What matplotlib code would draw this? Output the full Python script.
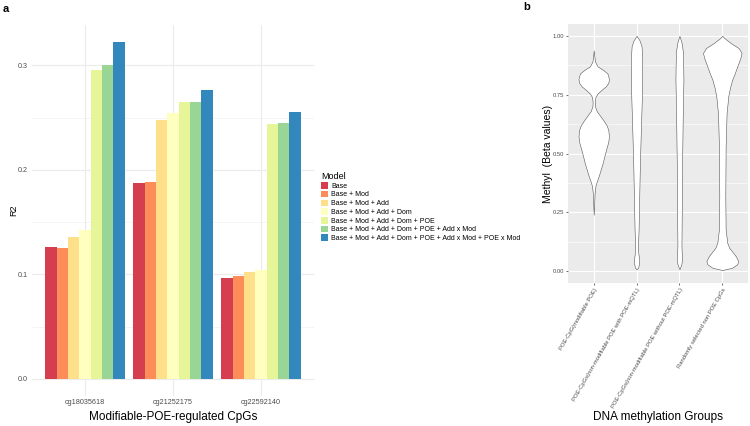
import numpy as np
import matplotlib
matplotlib.use("Agg")
import matplotlib.pyplot as plt
from matplotlib.patches import Patch

plt.rcParams['font.family'] = ['Liberation Sans', 'DejaVu Sans']

# ---- panel a data ----
cpgs = ["cg18035618", "cg21252175", "cg22592140"]
models = ["Base", "Base + Mod", "Base + Mod + Add", "Base + Mod + Add + Dom",
          "Base + Mod + Add + Dom + POE",
          "Base + Mod + Add + Dom + POE + Add x Mod",
          "Base + Mod + Add + Dom + POE + Add x Mod + POE x Mod"]
r2_cg18035618 = [0.126, 0.125, 0.136, 0.142, 0.295, 0.300, 0.322]
r2_cg21252175 = [0.187, 0.188, 0.248, 0.254, 0.265, 0.265, 0.276]
r2_cg22592140 = [0.097, 0.098, 0.102, 0.104, 0.244, 0.245, 0.255]
spectral = ["#D53E4F", "#FC8D59", "#FEE08B", "#FFFFBF", "#E6F598", "#99D594", "#3288BD"]

# ---- panel b data (violin outlines: y, half width) ----
groups = ["POE-CpG(modifiable POE)",
          "POE-CpGs(non-modifiable POE with POE-mQTL)",
          "POE-CpGs(non-modifiable POE without POE-mQTL)",
          "Randomly selected non POE CpGs"]
v1_y = [0.938, 0.92, 0.89, 0.87, 0.855, 0.84, 0.816, 0.80, 0.785, 0.77, 0.755, 0.74, 0.72,
        0.70, 0.68, 0.66, 0.64, 0.62, 0.60, 0.573, 0.55, 0.517, 0.49, 0.46, 0.43, 0.404,
        0.38, 0.362, 0.33, 0.29, 0.24]
v1_w = [0.0, 0.01, 0.03, 0.09, 0.22, 0.32, 0.357, 0.34, 0.28, 0.18, 0.09, 0.04, 0.025,
        0.03, 0.07, 0.15, 0.23, 0.30, 0.34, 0.355, 0.34, 0.29, 0.25, 0.21, 0.16, 0.116,
        0.07, 0.04, 0.02, 0.012, 0.0]
v2_y = [1.0, 0.98, 0.955, 0.91, 0.84, 0.743, 0.60, 0.46, 0.319, 0.178, 0.094, 0.07,
        0.051, 0.03, 0.015, 0.008]
v2_w = [0.0, 0.07, 0.116, 0.13, 0.13, 0.124, 0.10, 0.078, 0.062, 0.047, 0.03, 0.045,
        0.062, 0.055, 0.035, 0.0]
v3_y = [1.0, 0.97, 0.936, 0.88, 0.813, 0.67, 0.46, 0.25, 0.108, 0.07, 0.051, 0.03, 0.008]
v3_w = [0.0, 0.05, 0.078, 0.088, 0.093, 0.078, 0.062, 0.054, 0.047, 0.055, 0.06, 0.045, 0.0]
v4_y = [1.0, 0.99, 0.969, 0.948, 0.927, 0.905, 0.87, 0.84, 0.813, 0.78, 0.743, 0.67,
        0.53, 0.32, 0.178, 0.121, 0.10, 0.086, 0.065, 0.044, 0.03, 0.015, 0.005]
v4_w = [0.0, 0.05, 0.20, 0.38, 0.45, 0.42, 0.35, 0.29, 0.23, 0.18, 0.14, 0.10,
        0.078, 0.07, 0.078, 0.116, 0.16, 0.22, 0.31, 0.37, 0.35, 0.23, 0.0]

fig = plt.figure(figsize=(7.5, 4.26), dpi=100)
W, H = 750.0, 426.0

# ================= panel a =================
ax = fig.add_axes([32 / W, 1 - 396 / H, 282 / W, 371 / H])
vals = np.array([r2_cg18035618, r2_cg21252175, r2_cg22592140])
bw = 0.9 / len(models)
x = np.arange(len(cpgs))
for i, m in enumerate(models):
    ax.bar(x - 0.45 + bw * (i + 0.5), vals[:, i], width=bw, color=spectral[i],
           edgecolor="none", zorder=2)
ax.set_xlim(-0.6, 2.6)
ax.set_ylim(-0.0163, 0.3385)
ax.set_yticks([0, 0.1, 0.2, 0.3])
ax.set_yticklabels(["0.0", "0.1", "0.2", "0.3"])
ax.set_yticks([0.05, 0.15, 0.25], minor=True)
ax.set_xticks(x)
ax.set_xticklabels(cpgs)
ax.grid(True, which="major", color="#EBEBEB", lw=0.8, zorder=0)
ax.grid(True, which="minor", axis="y", color="#F2F2F2", lw=0.5, zorder=0)
ax.set_axisbelow(True)
for s in ax.spines.values():
    s.set_visible(False)
ax.tick_params(which="both", length=0, labelsize=5.2, labelcolor="#4D4D4D", pad=3)
ax.tick_params(axis="x", pad=2)
ax.set_xlabel("Modifiable-POE-regulated CpGs", fontsize=8.5, va="center")
ax.xaxis.set_label_coords(0.5, (396 - 417) / 371.0)
ax.set_ylabel("R2", fontsize=6.5, va="center")
ax.yaxis.set_label_coords((14 - 32) / 282.0, 0.5)

handles = [Patch(facecolor=c, edgecolor="none") for c in spectral]
leg = fig.legend(handles, models, loc="upper left", bbox_to_anchor=(321 / W, 1 - 172 / H),
                 frameon=False, fontsize=5, title="Model", title_fontsize=6.5,
                 handlelength=1.0, handleheight=1.1, handletextpad=0.5,
                 labelspacing=0.15, borderpad=0, borderaxespad=0, alignment="left")

fig.text(3 / W, 1 - 9 / H, "a", fontsize=8, fontweight="bold", va="center")

# ================= panel b =================
bx = fig.add_axes([568 / W, 1 - 283 / H, 180 / W, 259 / H])
bx.set_facecolor("#EBEBEB")
profiles = [(v1_y, v1_w), (v2_y, v2_w), (v3_y, v3_w), (v4_y, v4_w)]
for k, (yy, ww) in enumerate(profiles):
    yy = np.array(yy)
    ww = np.array(ww)
    bx.fill_betweenx(yy, k - ww, k + ww, facecolor="white", edgecolor="#555555",
                     lw=0.4, zorder=3)
bx.set_xlim(-0.6, 3.6)
bx.set_ylim(-0.05, 1.05)
bx.set_yticks([0, 0.25, 0.5, 0.75, 1.0])
bx.set_yticklabels(["0.00", "0.25", "0.50", "0.75", "1.00"])
bx.set_yticks([0.125, 0.375, 0.625, 0.875], minor=True)
bx.set_xticks(range(len(groups)))
bx.set_xticklabels(groups, rotation=60, ha="right", va="top", rotation_mode="anchor")
bx.grid(True, which="major", color="white", lw=0.8, zorder=0)
bx.grid(True, which="minor", axis="y", color="white", lw=0.4, zorder=0)
bx.set_axisbelow(True)
for s in bx.spines.values():
    s.set_visible(False)
bx.tick_params(which="major", length=1.5, width=0.5, color="#333333", labelsize=4.2,
               labelcolor="#4D4D4D", pad=1.5)
bx.tick_params(which="minor", length=0)
bx.set_xlabel("DNA methylation Groups", fontsize=8.5, va="center")
bx.xaxis.set_label_coords(0.5, (283 - 417) / 259.0)
bx.set_ylabel("Methyl  (Beta values)", fontsize=7.5, va="center")
bx.yaxis.set_label_coords((548 - 568) / 180.0, 0.5)

fig.text(523 / W, 1 - 7 / H, "b", fontsize=8, fontweight="bold", va="center")

fig.savefig("out.png", dpi=100)
